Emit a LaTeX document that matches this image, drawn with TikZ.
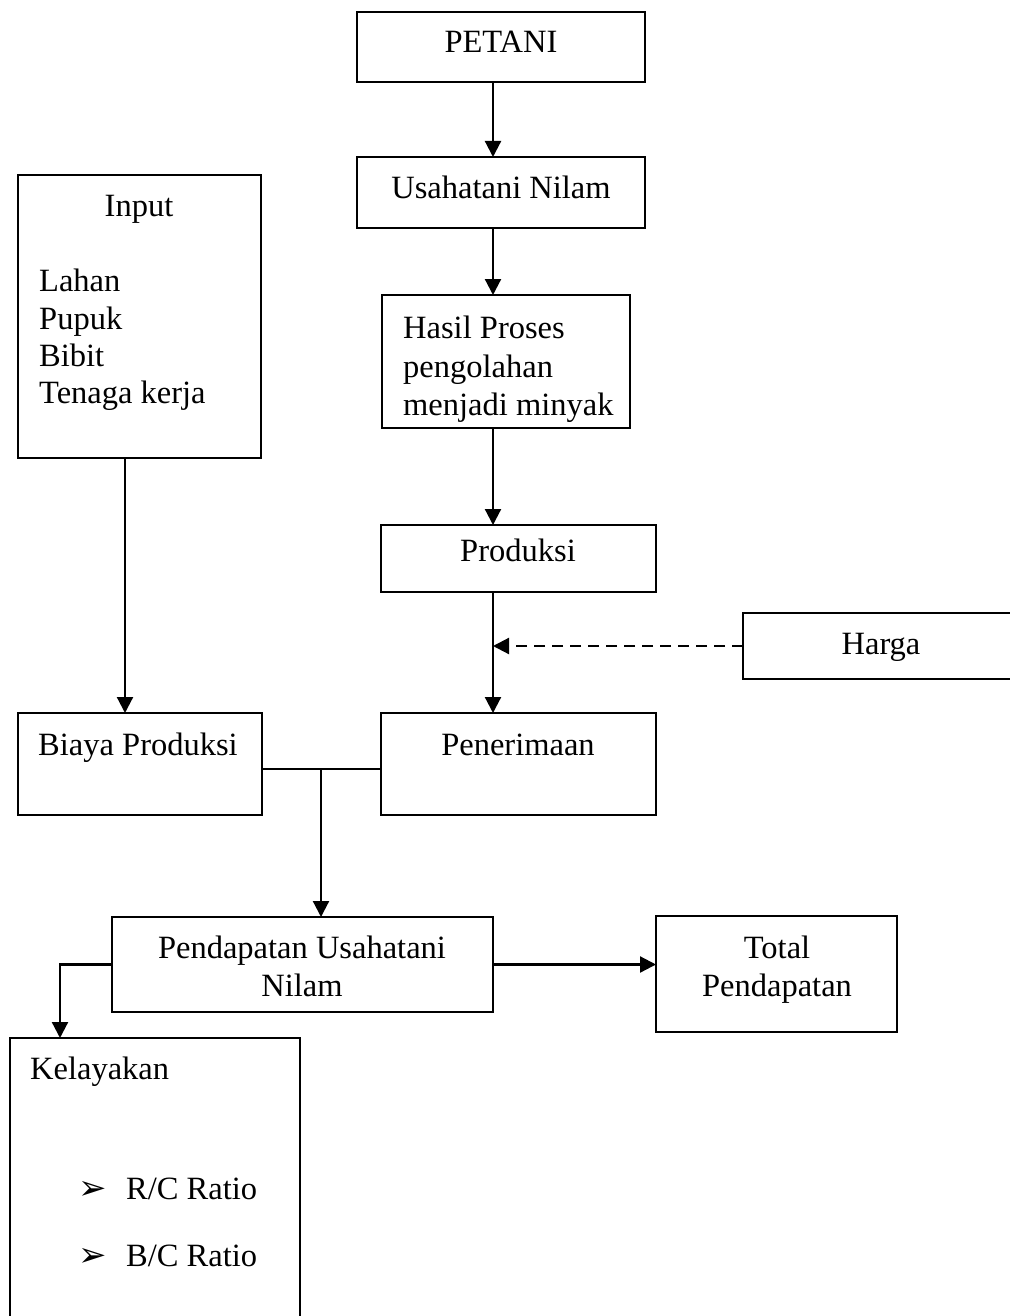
\documentclass[tikz,border=0pt]{standalone}
\usepackage{fontspec}
\setmainfont{Liberation Serif}
\newfontfamily\dejavu{DejaVu Sans}
\usetikzlibrary{arrows.meta}
\begin{document}
\begin{tikzpicture}[x=1pt,y=-1pt,
  box/.style={draw, line width=2.2pt, inner sep=0pt, outer sep=0pt},
  txt/.style={inner sep=0pt, anchor=base, font=\fontsize{32.5}{38}\selectfont},
  txtl/.style={txt, anchor=base west},
  bul/.style={inner sep=0pt, anchor=base west, font=\dejavu\fontsize{34}{38}\selectfont},
  arr/.style={line width=2.2pt, -{Triangle[width=16pt,length=16pt]}},
  ln/.style={line width=2.2pt}]
\useasboundingbox (0,0) rectangle (1009,1316);
% boxes
\node[box, minimum width=288pt, minimum height=70pt] (petani) at (501,47) {};
\node[box, minimum width=288pt, minimum height=71pt] (usaha) at (501,192.5) {};
\node[box, minimum width=243pt, minimum height=283pt] (input) at (139.5,316.5) {};
\node[box, minimum width=248pt, minimum height=133pt] (hasil) at (506,361.5) {};
\node[box, minimum width=275pt, minimum height=67pt] (produksi) at (518.5,558.5) {};
\node[box, minimum width=287pt, minimum height=66pt] (harga) at (886.5,646) {};
\node[box, minimum width=244pt, minimum height=102pt] (biaya) at (140,764) {};
\node[box, minimum width=275pt, minimum height=102pt] (pener) at (518.5,764) {};
\node[box, minimum width=381pt, minimum height=95pt] (pendap) at (302.5,964.5) {};
\node[box, minimum width=241pt, minimum height=116pt] (total) at (776.5,974) {};
\node[box, minimum width=290pt, minimum height=292pt] (kelay) at (155,1184) {};
% texts
\node[txt] (tpetani) at (501,53) {PETANI};
\node[txt] (tusaha) at (501,198) {Usahatani Nilam};
\node[txt] (tinput) at (139,216) {Input};
\node[txtl] (tl1) at (39,291) {Lahan};
\node[txtl] (tl2) at (39,329) {Pupuk};
\node[txtl] (tl3) at (39,366) {Bibit};
\node[txtl] (tl4) at (39,403) {Tenaga kerja};
\node[txtl] (th1) at (403,338) {Hasil Proses};
\node[txtl] (th2) at (403,377) {pengolahan};
\node[txtl] (th3) at (403,415) {menjadi minyak};
\node[txt] (tprod) at (518,561) {Produksi};
\node[txt] (tharga) at (881,654) {Harga};
\node[txt] (tbiaya) at (138,755) {Biaya Produksi};
\node[txt] (tpener) at (518,755) {Penerimaan};
\node[txt] (tpd1) at (302,958) {Pendapatan Usahatani};
\node[txt] (tpd2) at (302,996) {Nilam};
\node[txt] (ttot1) at (777,958) {Total};
\node[txt] (ttot2) at (777,996) {Pendapatan};
\node[txtl] (tkel) at (30,1079) {Kelayakan};
\node[bul] (b1) at (78,1199) {➢};
\node[txtl] (tk1) at (126,1199) {R/C Ratio};
\node[bul] (b2) at (78,1266) {➢};
\node[txtl] (tk2) at (126,1266) {B/C Ratio};
% helper coordinates
\coordinate (ax) at (493,0);
\coordinate (ix) at (125,0);
\coordinate (hy) at (0,769);
\coordinate (join) at (321,769);
\coordinate (kx) at (60,0);
% connectors
\draw[arr] (petani.south -| ax) -- (usaha.north -| ax);
\draw[arr] (usaha.south -| ax) -- (hasil.north -| ax);
\draw[arr] (hasil.south -| ax) -- (produksi.north -| ax);
\draw[arr] (produksi.south -| ax) -- (pener.north -| ax);
\draw[arr, dash pattern=on 11pt off 7pt] (harga.west) -- (harga.west -| ax);
\draw[arr] (input.south -| ix) -- (biaya.north -| ix);
\draw[ln] (biaya.east |- hy) -- (pener.west |- hy);
\draw[arr] (join) -- (join |- pendap.north);
\draw[arr] (pendap.east) -- (total.west |- pendap.east);
\draw[arr] (pendap.west) -| (kx |- kelay.north);
\end{tikzpicture}
\end{document}
